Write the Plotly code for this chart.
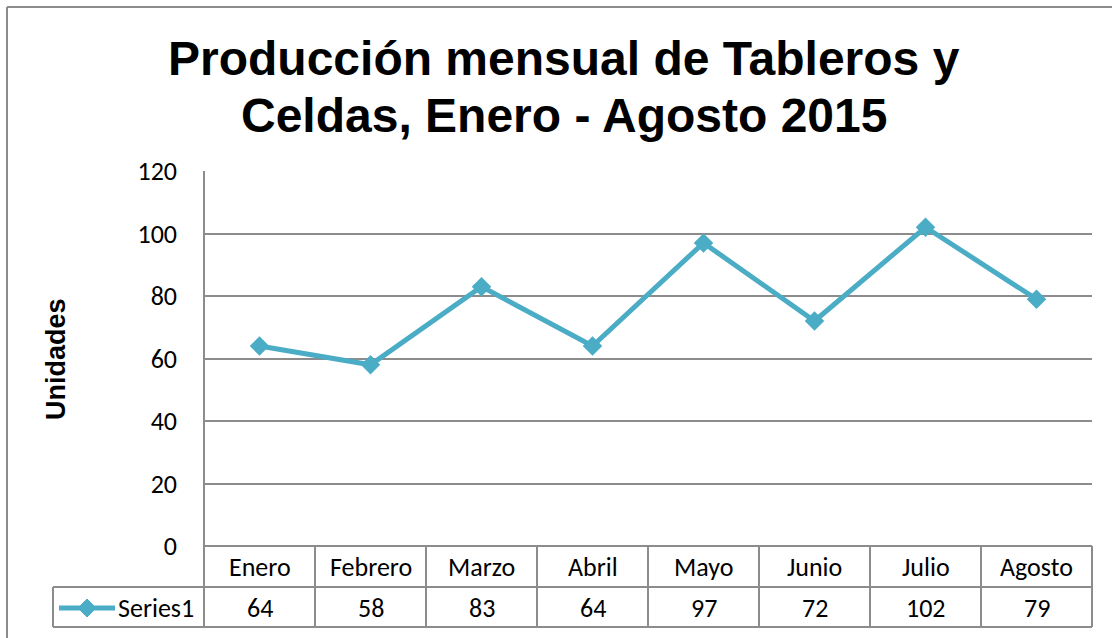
import plotly.graph_objects as go

# ---- data ----
months = ["Enero", "Febrero", "Marzo", "Abril", "Mayo", "Junio", "Julio", "Agosto"]
values = [64, 58, 83, 64, 97, 72, 102, 79]
series_name = "Series1"
y_ticks = [0, 20, 40, 60, 80, 100, 120]
title_lines = ["Producción mensual de Tableros y", "Celdas, Enero - Agosto 2015"]
y_title = "Unidades"

# ---- geometry helpers (pixel -> paper) ----
W, H = 1112, 638
L, R, T, B = 204, 20, 171, 92
PW, PH = W - L - R, H - T - B


def xp(px):
    return (px - L) / PW


def yp(py):
    return (H - B - py) / PH


LINE = "#4BACC6"
GRID = "#8C8C8C"
FONT = "Carlito, Calibri, Lato, sans-serif"
TITLE_FONT = "Liberation Sans, Arial, sans-serif"

x_idx = list(range(len(months)))

fig = go.Figure()
fig.add_trace(go.Scatter(
    x=x_idx, y=values, mode="lines+markers", name=series_name,
    line=dict(color=LINE, width=5),
    marker=dict(symbol="diamond", size=15, color=LINE),
    showlegend=False, cliponaxis=False,
))

shapes = []
ln = dict(color=GRID, width=2)
# outer chart border (top & left)
shapes.append(dict(type="line", xref="paper", yref="paper",
                   x0=xp(7), x1=xp(W + 5), y0=yp(7), y1=yp(7), line=ln))
shapes.append(dict(type="line", xref="paper", yref="paper",
                   x0=xp(7), x1=xp(7), y0=yp(7), y1=yp(H + 5), line=ln))

# data table
row_mid = 587
row_bot = 627
n = len(months)
for i in range(n + 1):
    top = T if i == 0 else (H - B)
    shapes.append(dict(type="line", xref="paper", yref="paper",
                       x0=i / n, x1=i / n, y0=yp(top), y1=yp(row_bot), line=ln))
shapes.append(dict(type="line", xref="paper", yref="paper",
                   x0=xp(53), x1=1, y0=yp(row_mid), y1=yp(row_mid), line=ln))
shapes.append(dict(type="line", xref="paper", yref="paper",
                   x0=xp(53), x1=1, y0=yp(row_bot), y1=yp(row_bot), line=ln))
shapes.append(dict(type="line", xref="paper", yref="paper",
                   x0=xp(53), x1=xp(53), y0=yp(row_mid), y1=yp(row_bot), line=ln))

# legend key inside table
ky = 608
shapes.append(dict(type="line", xref="paper", yref="paper",
                   x0=xp(59), x1=xp(115), y0=yp(ky), y1=yp(ky),
                   line=dict(color=LINE, width=5)))
cx, r = 87, 9
shapes.append(dict(type="path", xref="paper", yref="paper",
                   path=f"M {xp(cx - r)} {yp(ky)} L {xp(cx)} {yp(ky - r)} L {xp(cx + r)} {yp(ky)} L {xp(cx)} {yp(ky + r)} Z",
                   fillcolor=LINE, line=dict(color=LINE, width=1)))

tfont = dict(family=FONT, size=26, color="black")
annotations = []
for i, (m, v) in enumerate(zip(months, values)):
    annotations.append(dict(x=i, xref="x", y=yp(567), yref="paper", text=m,
                            xanchor="center", yanchor="middle",
                            showarrow=False, font=tfont))
    annotations.append(dict(x=i, xref="x", y=yp(608), yref="paper", text=str(v),
                            xanchor="center", yanchor="middle",
                            showarrow=False, font=tfont))
annotations.append(dict(x=xp(196), xref="paper", xanchor="right", y=yp(608), yref="paper",
                        yanchor="middle", text=series_name, showarrow=False, font=tfont))
# y-axis title
annotations.append(dict(x=xp(56), xref="paper", xanchor="center", y=yp(359), yref="paper",
                        yanchor="middle", text=f"<b>{y_title}</b>",
                        textangle=-90, showarrow=False,
                        font=dict(family=TITLE_FONT, size=27, color="black")))
# chart title (two lines placed separately)
for line_text, cy in zip(title_lines, [58, 116]):
    annotations.append(dict(x=xp(564), xref="paper", xanchor="center", y=yp(cy), yref="paper",
                            yanchor="middle", text=f"<b>{line_text}</b>",
                            showarrow=False, font=dict(family=TITLE_FONT, size=48, color="black")))

fig.update_layout(
    width=W, height=H,
    margin=dict(l=L, r=R, t=T, b=B, pad=0),
    paper_bgcolor="white", plot_bgcolor="white",
    shapes=shapes, annotations=annotations,
    xaxis=dict(range=[-0.5, n - 0.5], showgrid=False, zeroline=False, showline=False,
               showticklabels=False, fixedrange=True),
    yaxis=dict(range=[0, 120], tickvals=y_ticks, showgrid=True, gridcolor=GRID, gridwidth=2,
               zeroline=True, zerolinecolor=GRID, zerolinewidth=2,
               showline=False, ticks="", ticklabelstandoff=26,
               tickfont=tfont),
    showlegend=False,
)

fig.write_html("out.html", config={"displayModeBar": False},
               post_script="document.body.style.margin='0';")
